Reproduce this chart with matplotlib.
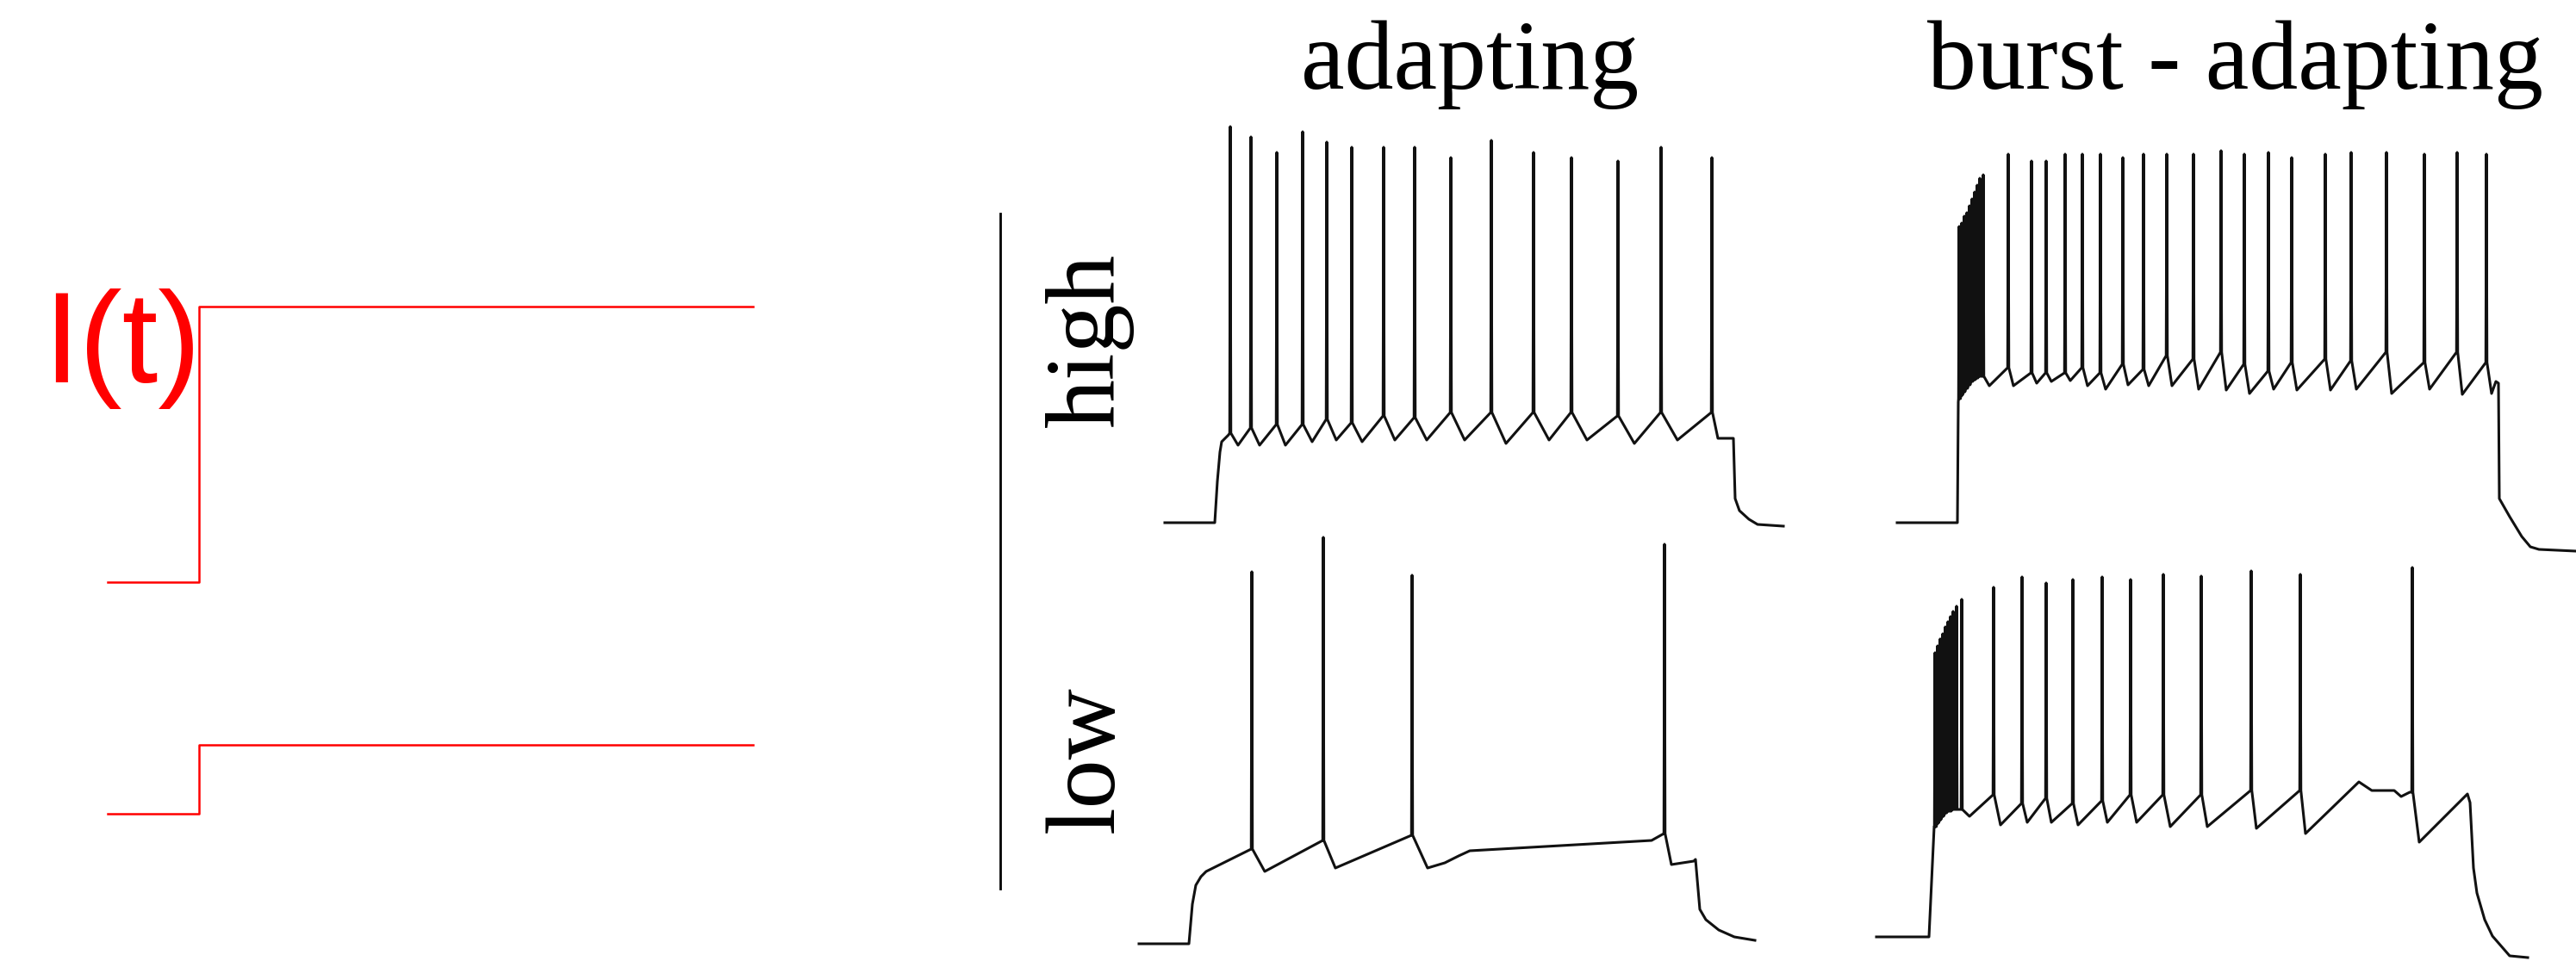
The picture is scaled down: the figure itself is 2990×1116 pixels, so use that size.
import matplotlib
matplotlib.use('Agg')
import matplotlib.pyplot as plt
from matplotlib.lines import Line2D

W, H = 2990, 1116

# current steps (t in ms, I in pA)
step_t = [-106, 0, 643]
step_high = [0, 320, 320]
step_low = [0, 80, 80]

# adapting, high current
ah_spk_t = [18, 42, 72, 102, 130, 159, 196, 232, 274, 321, 370, 414, 468, 518, 577]
ah_spk_peak = [45, 42, 37.5, 43.5, 40.5, 39, 39, 39, 36, 41, 37.5, 36, 35, 39, 36]
ah_spk_thr = [-44, -42.5, -41.5, -41.5, -40, -41, -39, -39.5, -38, -38, -38, -38, -39, -38, -38]
ah_sub_t = [-58, 0, 3, 6, 8, 12, 16,
            27, 52, 82, 113, 141, 171, 209, 246, 290, 338, 388, 432, 487, 537,
            584, 602, 604, 609, 620, 630, 660]
ah_sub_v = [-70, -70, -58, -49.5, -46.5, -45.5, -44.5,
            -47.5, -47.5, -47.5, -46.5, -46, -46.5, -46, -46, -46, -47, -46, -46, -47, -46,
            -45.5, -45.5, -63, -66.5, -69, -70.5, -71]

# adapting, low current
al_spk_t = [73, 156, 259, 552]
al_spk_peak = [38, 48, 37, 46]
al_spk_thr = [-42.5, -40, -38.5, -38]
al_sub_t = [-58, 0, 4, 8, 14, 20,
            88, 170, 277, 297, 313, 326, 537,
            560, 586, 588, 593, 600, 615, 633, 657]
al_sub_v = [-70, -70, -58.5, -53, -50.5, -49,
            -49, -48, -48, -46.5, -44.5, -43, -40,
            -47, -46, -45.5, -60, -63, -66, -68, -69]

# burst-adapting, high current
bh_spk_t = [2, 5, 8, 11, 14, 17, 20, 23, 26, 30,
            59, 86, 103, 125, 145, 166, 192, 216, 243, 274,
            306, 333, 361, 388, 427, 457, 498, 542, 580, 614]
bh_spk_peak = [16, 17, 19, 20, 22, 24, 26, 28, 30, 31,
               37, 35, 35, 37, 37, 37, 36, 37, 37, 37,
               38, 37, 37.5, 36, 37, 37.5, 37.5, 37, 37.5, 37]
bh_spk_thr = [-34, -33, -32, -31, -30, -29, -28.5, -28, -27.5, -27.5,
              -25, -26.5, -26.5, -26.5, -25, -26.5, -24, -25.5, -21.5, -22.5,
              -20.5, -24, -26, -23.5, -22.5, -23, -20.5, -23.5, -20.5, -23.5]
bh_sub_t = [-70, 0, 1,
            3.5, 6.5, 9.5, 12.5, 15.5, 18.5, 21.5, 24.5, 28, 37,
            65, 92, 109, 131, 151, 172, 198, 222, 249, 280,
            312, 339, 367, 394, 433, 463, 504, 548, 586,
            620, 625, 628, 629, 641, 655, 665, 675, 718]
bh_sub_v = [-70, -70, -35,
            -34, -32.5, -31, -30, -29, -28.5, -28, -27.5, -27.5, -30.25,
            -30.25, -29.5, -29, -28.75, -30.25, -31.25, -30, -30.25, -30.25, -31.25,
            -31.5, -32.5, -31.25, -31.5, -31.5, -31.25, -32.5, -31.25, -32.75,
            -32.5, -29, -29.5, -63, -68.25, -74, -77, -77.75, -78.25]

# burst-adapting, low current
bl_spk_t = [7, 10, 13, 16, 19, 22, 25, 28, 32, 38,
            75, 108, 136, 167, 201, 234, 272, 316, 374, 431, 561]
bl_spk_peak = [12.5, 14.5, 16.5, 18, 20, 21.5, 23, 24.5, 26, 28,
               31.5, 34.5, 32.75, 33.75, 34.5, 33.75, 35.25, 34.75, 36.25, 35.25, 37.25]
bl_spk_thr = [-38, -37, -36, -35, -34, -33.5, -33.5, -33, -33, -33,
              -28.75, -31.25, -29.75, -31.25, -30.5, -28.75, -28.75, -28.75, -27.5, -27.5, -28]
bl_sub_t = [-61, 0, 6,
            8.5, 11.5, 14.5, 17.5, 20.5, 23.5, 26.5, 30, 35, 47,
            83, 114, 142, 173, 207, 241, 280, 323, 380, 437,
            499, 514, 540, 548, 558,
            569, 625, 628, 632, 636, 645, 654, 674, 695]
bl_sub_v = [-70, -70, -38,
            -38, -36.75, -35.5, -34.75, -34, -33.5, -33.25, -33, -33, -35,
            -37.5, -36.75, -36.75, -37.5, -36.75, -36.75, -38, -38, -38.5, -40,
            -25, -27.5, -27.5, -29.25, -28,
            -42.5, -28.5, -31, -50, -57.25, -65, -69.75, -75.5, -76]

titles = ['adapting', 'burst - adapting']
rows = ['high', 'low']


def trace(spk_t, spk_peak, spk_thr, sub_t, sub_v, w=0.7):
    pts = list(zip(sub_t, sub_v))
    for t, p, th in zip(spk_t, spk_peak, spk_thr):
        pts += [(t - w, th), (t, p), (t + w, th)]
    pts.sort(key=lambda q: q[0])
    return [q[0] for q in pts], [q[1] for q in pts]


def add_panel(x0, y0, xlim, ylim, sx, sy):
    # x0,y0 = pixel position of data (0,0); sx,sy = pixels per data unit
    left = x0 + xlim[0] * sx
    right = x0 + xlim[1] * sx
    bot = y0 - ylim[0] * sy
    top = y0 - ylim[1] * sy
    ax = fig.add_axes([left / W, 1 - bot / H, (right - left) / W, (bot - top) / H])
    ax.set_xlim(xlim)
    ax.set_ylim(ylim)
    ax.axis('off')
    return ax


fig = plt.figure(figsize=(W / 100, H / 100), dpi=100)

# stimulus steps
red = '#ff0000'
ax = add_panel(231, 676, (-120, 660), (-20, 340), 1, 1)
ax.plot(step_t, step_high, drawstyle='steps-post', color=red, lw=1.8)
ax = add_panel(231, 945, (-120, 660), (-20, 340), 1, 1)
ax.plot(step_t, step_low, drawstyle='steps-post', color=red, lw=1.8)
fig.text(50 / W, 1 - 444 / H, 'I(t)', color=red, fontsize=108,
         family='Liberation Sans', ha='left', va='baseline')

# voltage traces: 1 px per ms, 4 px per mV
panels = [(1410, 607, trace(ah_spk_t, ah_spk_peak, ah_spk_thr, ah_sub_t, ah_sub_v)),
          (1380, 1096, trace(al_spk_t, al_spk_peak, al_spk_thr, al_sub_t, al_sub_v)),
          (2272, 607, trace(bh_spk_t, bh_spk_peak, bh_spk_thr, bh_sub_t, bh_sub_v)),
          (2239, 1088, trace(bl_spk_t, bl_spk_peak, bl_spk_thr, bl_sub_t, bl_sub_v))]
for onset, base, (t, v) in panels:
    ax = add_panel(onset, base - 280, (-80, 720), (-85, 52), 1, 4)
    ax.plot(t, v, color='#111111', lw=2.2, solid_joinstyle='round')

serif = 'Liberation Serif'
for x, s in zip([1706, 2594], titles):
    fig.text(x / W, 1 - 103 / H, s, fontsize=82, family=serif, ha='center', va='baseline')
for y, s in zip([395, 882], rows):
    fig.text(1292 / W, 1 - y / H, s, fontsize=82, family=serif, rotation=90,
             rotation_mode='anchor', ha='center', va='baseline')

fig.add_artist(Line2D([1161 / W, 1161 / W], [1 - 248 / H, 1 - 1032 / H],
                      transform=fig.transFigure, color='black', lw=2.0))

fig.savefig('out.png', dpi=100)
